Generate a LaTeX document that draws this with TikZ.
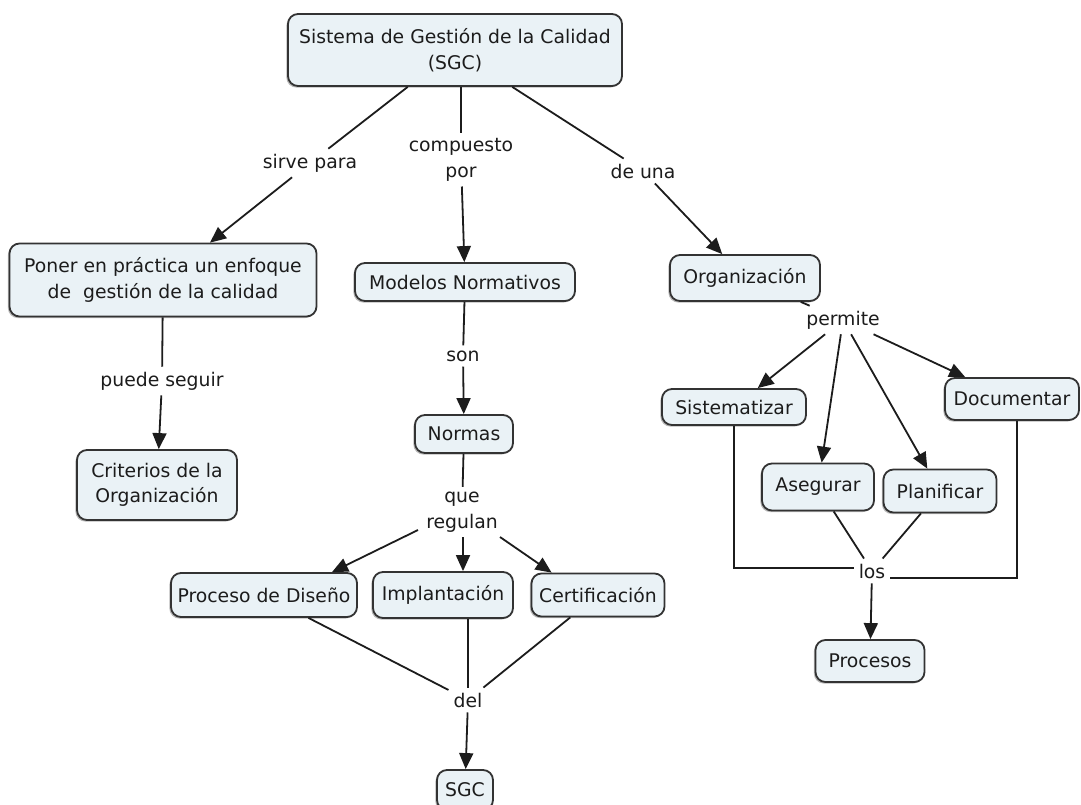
\documentclass[tikz,border=0pt]{standalone}
\usepackage{fontspec}
\setmainfont{DejaVu Sans}
\usetikzlibrary{arrows.meta,shadows,calc}
\definecolor{boxfill}{HTML}{EAF2F6}
\definecolor{boxline}{HTML}{333333}
\definecolor{ink}{HTML}{1C1C1C}
\begin{document}
\begin{tikzpicture}[x=1pt,y=-1pt,
  concept/.style={draw=boxline, line width=1.8pt, fill=boxfill, rounded corners=10pt,
    align=center, text=ink, font=\fontsize{18.8}{25.5}\selectfont, inner sep=0pt,
    drop shadow={shadow xshift=-1.6pt, shadow yshift=-1.6pt, fill=gray!55, opacity=1}},
  linktext/.style={align=center, text=ink, font=\fontsize{18.8}{25.5}\selectfont, inner sep=5pt},
  conn/.style={draw=ink, line width=1.8pt},
  arr/.style={conn, -{Triangle[length=16pt,width=14pt]}}
]
\useasboundingbox (0,0) rectangle (1081,805);
\fill[white] (0,0) rectangle (1081,805);

% concepts
\node[concept, minimum width=334pt, minimum height=72pt] (top) at (455,50) {Sistema de Gestión de la Calidad\\(SGC)};
\node[concept, minimum width=307pt, minimum height=73pt] (poner) at (163,280) {Poner en práctica un enfoque\\de\ \ gestión de la calidad};
\node[concept, minimum width=160pt, minimum height=70pt] (crit) at (157,485) {Criterios de la\\Organización};
\node[concept, minimum width=220pt, minimum height=38pt] (modelos) at (465,282) {Modelos Normativos};
\node[concept, minimum width=98pt, minimum height=38pt] (normas) at (464,434) {Normas};
\node[concept, minimum width=150pt, minimum height=46pt] (org) at (745,278) {Organización};
\node[concept, minimum width=144pt, minimum height=36pt] (sist) at (734,407) {Sistematizar};
\node[concept, minimum width=134pt, minimum height=42pt] (doc) at (1012,399) {Documentar};
\node[concept, minimum width=112pt, minimum height=47pt] (aseg) at (818,487) {Asegurar};
\node[concept, minimum width=113pt, minimum height=43pt] (plan) at (940,491) {Planificar};
\node[concept, minimum width=109pt, minimum height=42pt] (proc) at (870,661) {Procesos};
\node[concept, minimum width=186pt, minimum height=44pt] (pd) at (264,595) {Proceso de Diseño};
\node[concept, minimum width=140pt, minimum height=46pt] (impl) at (443,595) {Implantación};
\node[concept, minimum width=133pt, minimum height=43pt] (cert) at (598,595) {Certificación};
\node[concept, minimum width=56pt, minimum height=40pt] (sgc) at (465,790) {SGC};

% linking phrases
\node[linktext] (sirve) at (310,163) {sirve para};
\node[linktext] (comp) at (461,160) {compuesto\\por};
\node[linktext] (deuna) at (643,171) {de una};
\node[linktext] (puede) at (162,381) {puede seguir};
\node[linktext] (son) at (463,356) {son};
\node[linktext] (que) at (462,512) {que\\regulan};
\node[linktext] (del) at (468,700) {del};
\node[linktext] (permite) at (843,320) {permite};
\node[linktext] (los) at (872,571) {los};

% connectors
\draw[conn] (top) -- (sirve);
\draw[arr] (sirve) -- (poner);
\draw[conn] (comp |- top.south) -- (comp);
\draw[arr] (comp) -- (modelos);
\draw[conn] (top) -- (deuna);
\draw[arr] (deuna) -- (org);

\draw[conn] (poner) -- (puede);
\draw[arr] (puede) -- (crit);

\draw[conn] (modelos) -- (son);
\draw[arr] (son) -- (normas);
\draw[conn] (normas) -- (que);
\draw[arr] ($(que.center)+(-44,18)$) -- ($(pd.north)+(68,0)$);
\draw[arr] ($(que.center)+(1,25)$) -- ($(impl.north)+(20,0)$);
\draw[arr] ($(que.center)+(38,25)$) -- ($(cert.north west)+(21,0)$);
\draw[conn] (pd) -- (del);
\draw[conn] (del |- impl.south) -- (del);
\draw[conn] (cert) -- (del);
\draw[arr] (del) -- (sgc);

\draw[conn] (org) -- (permite);
\draw[arr] (permite) -- (sist);
\draw[arr] (permite) -- (aseg);
\draw[arr] (permite) -- (plan);
\draw[arr] (permite) -- (doc);
\draw[conn] (aseg) -- (los);
\draw[conn] (plan) -- (los);
\draw[conn] (sist.south) |- ($(los.west)+(0,-3)$);
\draw[conn] ($(doc.south)+(5,0)$) |- ($(los.east)+(0,7)$);
\draw[arr] (los) -- (proc);
\end{tikzpicture}
\end{document}
